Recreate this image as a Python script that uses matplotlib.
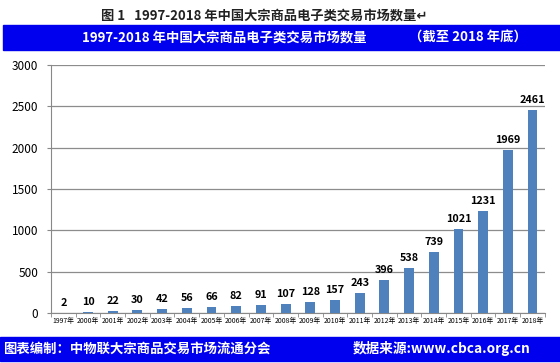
import matplotlib.pyplot as plt
from matplotlib.patches import Rectangle

plt.rcParams['font.family'] = ['Noto Sans CJK SC', 'DejaVu Sans']

years = ['1997年', '2000年', '2001年', '2002年', '2003年', '2004年', '2005年',
         '2006年', '2007年', '2008年', '2009年', '2010年', '2011年', '2012年',
         '2013年', '2014年', '2015年', '2016年', '2017年', '2018年']
counts = [2, 10, 22, 30, 42, 56, 66, 82, 91, 107, 128, 157, 243, 396, 538,
          739, 1021, 1231, 1969, 2461]
yticks = [0, 500, 1000, 1500, 2000, 2500, 3000]

fig = plt.figure(figsize=(5.6, 3.63), dpi=100)
ax = fig.add_axes([0.091, 0.138, 0.882, 0.683])

x = list(range(len(years)))
ax.bar(x, counts, width=0.4, color='#4F81BD', zorder=3)
for xi, v in zip(x, counts):
    ax.text(xi, v + 60, str(v), ha='center', va='bottom', fontsize=7.8,
            fontweight='bold', color='black')

ax.set_xlim(-0.5, len(years) - 0.5)
ax.set_ylim(0, 3000)
ax.set_yticks(yticks)
ax.set_yticklabels([str(t) for t in yticks], fontsize=8.5)
ax.set_xticks(x)
ax.set_xticklabels(years, fontsize=4.9)
ax.set_xticks([i - 0.5 for i in range(len(years) + 1)], minor=True)
ax.tick_params(axis='x', which='major', length=0, pad=3)
ax.tick_params(axis='x', which='minor', length=3, color='#888888')
ax.tick_params(axis='y', length=3, color='#888888', pad=6)
ax.grid(axis='y', color='#8c8c8c', linewidth=0.9, zorder=0)
for s in ['top', 'right']:
    ax.spines[s].set_visible(False)
for s in ['left', 'bottom']:
    ax.spines[s].set_color('#888888')

# title above
fig.text(0.472, 0.958, '图 1   1997-2018 年中国大宗商品电子类交易市场数量↵',
         ha='center', va='center', fontsize=9.5, fontweight='bold', color='#222222')

# header band
fig.patches.append(Rectangle((0.005, 1 - 50 / 363), 0.995, 25 / 363,
                             transform=fig.transFigure, color='#0000EE', zorder=0))
fig.text(0.146, 1 - 38 / 363, '1997-2018 年中国大宗商品电子类交易市场数量',
         ha='left', va='center', fontsize=9.6, fontweight='bold', color='white')
fig.text(0.73, 1 - 38 / 363, '（截至 2018 年底）',
         ha='left', va='center', fontsize=9.6, fontweight='bold', color='white')

# footer band
fig.patches.append(Rectangle((0.0, 1 - 361 / 363), 1.0, 24 / 363,
                             transform=fig.transFigure, color='#0000EE', zorder=0))
fig.text(0.005, 1 - 349 / 363, '图表编制：中物联大宗商品交易市场流通分会',
         ha='left', va='center', fontsize=9.6, fontweight='bold', color='white')
fig.text(0.63, 1 - 349 / 363, '数据来源:www.cbca.org.cn',
         ha='left', va='center', fontsize=9.8, fontweight='bold', color='white')

fig.savefig('out.png', dpi=100)
